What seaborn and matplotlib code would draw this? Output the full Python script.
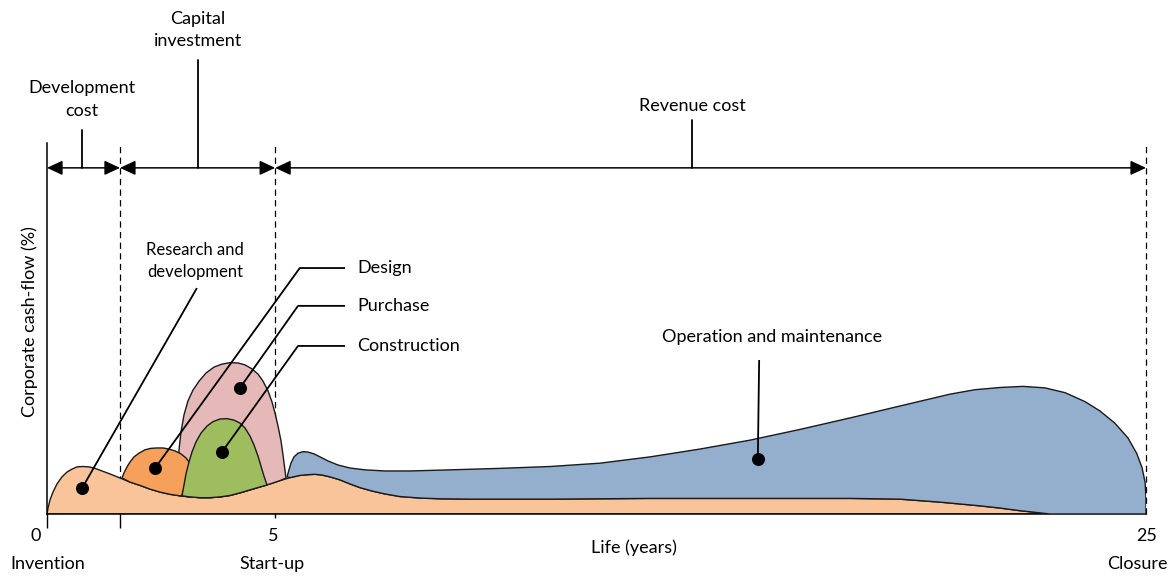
"""
Life-cycle cost profile of a process plant (schematic)
"""

import numpy as np
import matplotlib
matplotlib.use("Agg")
import matplotlib.pyplot as plt
import seaborn as sns

# ─── Data (x in years, y in % of corporate cash-flow) ────────────────────────
# research & development (base layer)
rd_x = [0.000, 0.023, 0.068, 0.136, 0.227, 0.341, 0.455, 0.569, 0.682, 0.819,
        0.955, 1.092, 1.251, 1.433, 1.661, 1.888, 2.116, 2.343, 2.571, 2.798,
        3.025, 3.253, 3.480, 3.708, 3.935, 4.163, 4.390, 4.618, 4.845, 5.073,
        5.300, 5.528, 5.755, 5.937, 6.096, 6.256, 6.438, 6.665, 6.893, 7.120,
        7.393, 7.689, 8.030, 8.485, 8.940, 9.622, 11.44, 13.72, 15.99, 18.27,
        19.40, 19.86, 20.31, 20.77, 21.22, 21.68, 22.13, 22.59, 22.82]
rd_y = [0.0, 1.6, 3.8, 5.9, 8.1, 10.0, 11.3, 12.1, 12.7, 12.8,
        12.7, 12.3, 11.6, 10.8, 9.7, 8.6, 7.7, 6.7, 5.9, 5.3,
        4.9, 4.6, 4.4, 4.4, 4.6, 5.0, 5.7, 6.5, 7.3, 8.1,
        9.0, 9.8, 10.4, 10.6, 10.7, 10.5, 10.0, 9.2, 8.1, 7.1,
        6.2, 5.4, 4.7, 4.3, 4.1, 4.0, 4.0, 4.2, 4.2, 4.2,
        4.0, 3.6, 3.2, 2.7, 2.2, 1.6, 0.9, 0.3, 0.0]

# design
design_x = [1.706, 1.752, 1.820, 1.888, 1.979, 2.093, 2.229, 2.366, 2.502,
            2.639, 2.775, 2.912, 3.048, 3.162, 3.253, 3.207, 3.139, 3.071]
design_y = [9.7, 11.1, 12.7, 14.0, 15.4, 16.4, 17.3, 17.7, 17.8,
            17.8, 17.5, 17.0, 16.2, 15.1, 13.7, 11.3, 7.8, 4.9]

# purchase
purchase_x = [3.003, 2.980, 3.003, 3.048, 3.116, 3.207, 3.321, 3.458, 3.617,
              3.799, 3.981, 4.163, 4.345, 4.504, 4.664, 4.800, 4.914, 5.027,
              5.118, 5.187, 5.255, 5.323, 5.369, 5.403, 5.437]
purchase_y = [5.1, 11.9, 17.3, 22.1, 26.7, 30.5, 33.4, 35.8, 38.0,
              39.6, 40.4, 40.8, 40.7, 40.2, 39.1, 37.7, 35.8, 33.2,
              30.2, 27.2, 23.7, 19.7, 15.9, 12.7, 9.7]

# construction
constr_x = [3.071, 3.116, 3.162, 3.230, 3.298, 3.389, 3.503, 3.640, 3.776,
            3.935, 4.095, 4.254, 4.390, 4.504, 4.618, 4.709, 4.800, 4.868,
            4.936, 5.005]
constr_y = [4.9, 7.8, 10.8, 14.0, 16.7, 19.4, 21.8, 23.7, 24.9,
            25.6, 25.7, 25.3, 24.5, 23.2, 21.0, 18.6, 15.6, 12.9,
            10.2, 7.8]

# operation and maintenance (top edge)
om_x = [5.460, 5.505, 5.550, 5.619, 5.710, 5.824, 5.937, 6.074, 6.210, 6.392,
        6.620, 6.893, 7.234, 7.689, 8.257, 9.167, 10.30, 11.44, 12.58, 13.72,
        14.85, 15.99, 17.13, 18.27, 19.40, 20.54, 21.11, 21.68, 22.20, 22.70,
        23.16, 23.61, 23.95, 24.29, 24.59, 24.79, 24.91, 24.98, 25.00, 25.00]
om_y = [10.0, 11.9, 13.7, 15.4, 16.4, 16.8, 16.7, 16.2, 15.4, 14.3,
        13.2, 12.4, 11.9, 11.6, 11.6, 11.9, 12.3, 12.8, 13.7, 15.4,
        17.5, 19.9, 22.8, 25.9, 29.1, 32.3, 33.5, 34.1, 34.4, 34.0,
        32.7, 30.3, 27.8, 24.5, 20.5, 16.3, 12.5, 8.5, 4.0, 0.0]

# phases along the top
phase_bounds = [0, 1.66, 5.19, 25]
phase_names = ["Development\ncost", "Capital\ninvestment", "Revenue cost"]
phase_tick_x = [0.80, 3.44, 14.67]
phase_tick_top = [103.5, 122.4, 106.2]
phase_text_y = [111.7, 130.5, 110.0]
arrow_y = 93.3

# bottom labels
num_labels = ["0", "5", "25"]
num_x = [-0.25, 5.14, 25.02]
stage_labels = ["Invention", "Start-up", "Closure"]
stage_x = [0.02, 5.12, 24.80]

# callouts
rd_dot = (0.80, 7.0)
rd_leader_top = (3.41, 60.9)
rd_text = (3.37, 68.2)

side_names = ["Design", "Purchase", "Construction"]
side_dots = [(2.46, 12.4), (4.39, 34.0), (3.98, 16.7)]
side_elbow_x = [5.75, 5.71, 5.71]
side_y = [66.3, 56.1, 45.3]
side_end_x = 6.78
side_text_x = 7.05

om_dot = (16.17, 14.8)
om_leader_top = (16.20, 41.5)
om_text = (16.49, 47.7)

colors = {
    "rd": "#F9C49A",
    "design": "#F5A05B",
    "purchase": "#E4B9B7",
    "constr": "#9EBD5F",
    "om": "#94AECD",
}

# ─── Style ────────────────────────────────────────────────────────────────────
sns.set_theme(style="white")
plt.rcParams["font.family"] = ["Lato", "DejaVu Sans"]
plt.rcParams["text.color"] = "black"
FS = 13

fig = plt.figure(figsize=(11.72, 5.78), dpi=100)
ax = fig.add_axes([47 / 1172, 64 / 578, 1099 / 1172, 371 / 578])
ax.set_xlim(0, 25)
ax.set_ylim(0, 100)

rd_x_a = np.array(rd_x)
rd_y_a = np.array(rd_y)


def base_between(x0, x1):
    """R&D curve points between x0 and x1, reversed (to close a polygon)."""
    m = (rd_x_a > x0) & (rd_x_a < x1)
    return list(rd_x_a[m][::-1]), list(rd_y_a[m][::-1])


edge = dict(edgecolor="#1a1a1a", linewidth=1.0, joinstyle="round")

# base layer
ax.fill(rd_x, rd_y, facecolor=colors["rd"], zorder=2, **edge)

# operation and maintenance
bx, by = base_between(om_x[0], 25.1)
ax.fill(om_x + bx, om_y + by, facecolor=colors["om"], zorder=3, **edge)

# purchase (behind design and construction)
bx, by = base_between(purchase_x[0], purchase_x[-1])
ax.fill(purchase_x + bx, purchase_y + by, facecolor=colors["purchase"], zorder=3, **edge)

# design
bx, by = base_between(design_x[0], design_x[-1])
ax.fill(design_x + bx, design_y + by, facecolor=colors["design"], zorder=4, **edge)

# construction
bx, by = base_between(constr_x[0], constr_x[-1])
ax.fill(constr_x + bx, constr_y + by, facecolor=colors["constr"], zorder=4, **edge)

# ─── Phase boundaries and top arrows ──────────────────────────────────────────
for xb in phase_bounds[1:]:
    ax.plot([xb, xb], [0, 100], color="black", lw=0.9, ls=(0, (5, 3.5)),
            zorder=1, clip_on=False)

for x0, x1 in zip(phase_bounds[:-1], phase_bounds[1:]):
    ax.annotate("", xy=(x1, arrow_y), xytext=(x0, arrow_y),
                arrowprops=dict(arrowstyle="<|-|>,head_length=0.47,head_width=0.22",
                                mutation_scale=20, color="black", lw=1.1,
                                shrinkA=0, shrinkB=0),
                annotation_clip=False, zorder=6)

for name, tx, ttop, ty in zip(phase_names, phase_tick_x, phase_tick_top, phase_text_y):
    ax.plot([tx, tx], [arrow_y, ttop], color="black", lw=1.3, clip_on=False)
    ax.text(tx, ty, name, ha="center", va="center", fontsize=FS,
            linespacing=1.5, clip_on=False)

# ─── Callouts ─────────────────────────────────────────────────────────────────
lead = dict(color="black", lw=1.3, zorder=7, solid_capstyle="butt")
dot = dict(s=70, color="black", zorder=8)

ax.plot([rd_dot[0], rd_leader_top[0]], [rd_dot[1], rd_leader_top[1]], **lead)
ax.scatter([rd_dot[0]], [rd_dot[1]], **dot)
ax.text(rd_text[0], rd_text[1], "Research and\ndevelopment", ha="center",
        va="center", fontsize=12, linespacing=1.45)

for name, d, ex, yy in zip(side_names, side_dots, side_elbow_x, side_y):
    ax.plot([d[0], ex, side_end_x], [d[1], yy, yy], **lead)
    ax.scatter([d[0]], [d[1]], **dot)
    ax.text(side_text_x, yy, name, ha="left", va="center", fontsize=FS)

ax.plot([om_dot[0], om_leader_top[0]], [om_dot[1], om_leader_top[1]], **lead)
ax.scatter([om_dot[0]], [om_dot[1]], **dot)
ax.text(om_text[0], om_text[1], "Operation and maintenance", ha="center",
        va="center", fontsize=FS)

# ─── Axes ─────────────────────────────────────────────────────────────────────
sns.despine(ax=ax)
for s in ("left", "bottom"):
    ax.spines[s].set_color("black")
    ax.spines[s].set_linewidth(1.1)
ax.set_yticks([])
ax.set_xticks([0, phase_bounds[1]])
ax.set_xticks([phase_bounds[2]], minor=True)
ax.tick_params(axis="x", which="major", direction="out", length=10, width=1,
               color="black", labelbottom=False, bottom=True)
ax.tick_params(axis="x", which="minor", direction="out", length=3, width=1,
               color="black", labelbottom=False, bottom=True)

for lab, xx in zip(num_labels, num_x):
    ax.text(xx, -5.9, lab, ha="center", va="center", fontsize=FS, clip_on=False)
for lab, xx in zip(stage_labels, stage_x):
    ax.text(xx, -13.5, lab, ha="center", va="center", fontsize=FS, clip_on=False)
ax.text(13.35, -9.2, "Life (years)", ha="center", va="center", fontsize=FS,
        clip_on=False)
ax.text(-0.0155, 0.52, "Corporate cash-flow (%)", transform=ax.transAxes,
        rotation=90, ha="center", va="center", fontsize=FS, clip_on=False)

fig.savefig("out.png", dpi=100)
